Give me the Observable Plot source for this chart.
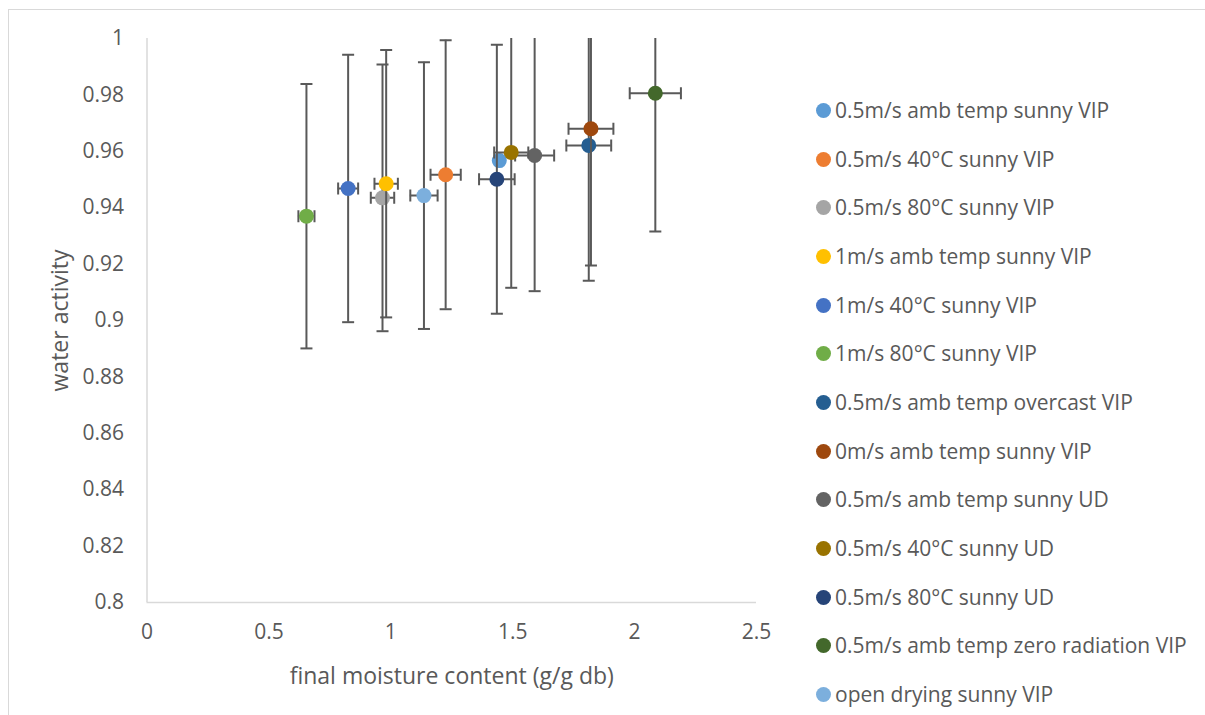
<!DOCTYPE html>
<html>
<head>
<meta charset="utf-8">
<script src="https://cdn.jsdelivr.net/npm/d3@7"></script>
<script src="https://cdn.jsdelivr.net/npm/@observablehq/plot@0.6"></script>
<style>
  html, body { margin: 0; padding: 0; background: #fff; }
  #wrap { position: relative; width: 1205px; height: 715px; overflow: hidden; font-family: "Open Sans", sans-serif; }
  #border { position: absolute; left: 8px; top: 9px; right: -2px; bottom: -2px; border-top: 1.5px solid #d9d9d9; border-left: 1.5px solid #d9d9d9; }
  #chart { position: absolute; left: 0; top: 0; }
  #legend { position: absolute; left: 816px; top: 86px; }
  .row { display: flex; align-items: center; height: 48.7px; }
  .sw { width: 15px; height: 15px; border-radius: 50%; margin-right: 4px; flex: none; }
  .lab { font-size: 21px; color: #595959; white-space: nowrap; line-height: 1; }
</style>
</head>
<body>
<div id="wrap">
  <div id="border"></div>
  <div id="chart"></div>
  <div id="legend"></div>
</div>
<script>
const seriesNames = [
  "0.5m/s amb temp sunny VIP",
  "0.5m/s 40°C sunny VIP",
  "0.5m/s 80°C sunny VIP",
  "1m/s amb temp sunny VIP",
  "1m/s 40°C sunny VIP",
  "1m/s 80°C sunny VIP",
  "0.5m/s amb temp overcast VIP",
  "0m/s amb temp sunny VIP",
  "0.5m/s amb temp sunny UD",
  "0.5m/s 40°C sunny UD",
  "0.5m/s 80°C sunny UD",
  "0.5m/s amb temp zero radiation VIP",
  "open drying sunny VIP"
];
const seriesColors = ["#5B9BD5","#ED7D31","#A5A5A5","#FFC000","#4472C4","#70AD47","#255E91","#9E480E","#636363","#997300","#264478","#43682B","#7CAFDD"];
const moisture = [1.445, 1.225, 0.966, 0.981, 0.825, 0.654, 1.812, 1.821, 1.590, 1.494, 1.435, 2.085, 1.136];
const waterActivity = [0.9567, 0.9517, 0.9435, 0.9485, 0.9468, 0.9370, 0.9621, 0.9680, 0.9585, 0.9596, 0.9501, 0.9806, 0.9443];
const moistureErr = [null, 0.062, 0.048, 0.048, 0.041, 0.033, 0.092, 0.092, 0.080, 0.070, 0.073, 0.105, 0.056];
const activityErr = [null, 0.0477, 0.0473, 0.0474, 0.0474, 0.0469, 0.0480, 0.0485, 0.0481, 0.0480, 0.0477, 0.0490, 0.0473];
const xTicks = [0, 0.5, 1, 1.5, 2, 2.5];
const xTickLabels = ["0", "0.5", "1", "1.5", "2", "2.5"];
const yTicks = [0.8, 0.82, 0.84, 0.86, 0.88, 0.9, 0.92, 0.94, 0.96, 0.98, 1];
const yTickLabels = ["0.8", "0.82", "0.84", "0.86", "0.88", "0.9", "0.92", "0.94", "0.96", "0.98", "1"];
const xTitle = "final moisture content (g/g db)";
const yTitle = "water activity";

const rows = seriesNames.map((name, i) => ({
  name, color: seriesColors[i], x: moisture[i], y: waterActivity[i], xe: moistureErr[i], ye: activityErr[i]
}));

const barColor = "#595959";
const hCap = { draw(ctx, size) { const r = Math.sqrt(size / Math.PI); ctx.moveTo(-r, 0); ctx.lineTo(r, 0); } };
const vCap = { draw(ctx, size) { const r = Math.sqrt(size / Math.PI); ctx.moveTo(0, -r); ctx.lineTo(0, r); } };

const seriesMarks = rows.flatMap(r => {
  const d = [r];
  const m = [];
  if (r.ye != null) {
    m.push(Plot.ruleX(d, { x: "x", y1: v => v.y - v.ye, y2: v => v.y + v.ye, stroke: barColor, strokeWidth: 2, clip: true }));
    m.push(Plot.dot(d, { x: "x", y: v => v.y + v.ye, symbol: hCap, r: 6, stroke: barColor, fill: "none", strokeWidth: 2, clip: true }));
    m.push(Plot.dot(d, { x: "x", y: v => v.y - v.ye, symbol: hCap, r: 6, stroke: barColor, fill: "none", strokeWidth: 2, clip: true }));
  }
  if (r.xe != null) {
    m.push(Plot.ruleY(d, { y: "y", x1: v => v.x - v.xe, x2: v => v.x + v.xe, stroke: barColor, strokeWidth: 2, clip: true }));
    m.push(Plot.dot(d, { y: "y", x: v => v.x - v.xe, symbol: vCap, r: 6, stroke: barColor, fill: "none", strokeWidth: 2, clip: true }));
    m.push(Plot.dot(d, { y: "y", x: v => v.x + v.xe, symbol: vCap, r: 6, stroke: barColor, fill: "none", strokeWidth: 2, clip: true }));
  }
  m.push(Plot.dot(d, { x: "x", y: "y", r: 7.5, fill: r.color, stroke: "none" }));
  return m;
});

const chart = Plot.plot({
  width: 1205,
  height: 715,
  marginLeft: 146.5,
  marginRight: 449,
  marginTop: 38,
  marginBottom: 113,
  style: { fontFamily: "Open Sans, sans-serif", background: "transparent", color: "#595959" },
  x: { domain: [0, 2.5] },
  y: { domain: [0.8, 1] },
  marks: [
    Plot.ruleX([0], { stroke: "#d9d9d9", strokeWidth: 1.5 }),
    Plot.ruleY([0.8], { stroke: "#d9d9d9", strokeWidth: 1.5 }),
    Plot.axisX(xTicks, { tickSize: 0, tickPadding: 22, fontSize: 21, color: "#595959", label: null, tickFormat: d => xTickLabels[xTicks.indexOf(d)] }),
    Plot.axisY(yTicks, { tickSize: 0, tickPadding: 23, fontSize: 21, color: "#595959", label: null, tickFormat: d => yTickLabels[yTicks.indexOf(d)] }),
    Plot.text([xTitle], { frameAnchor: "bottom", dy: 74, lineAnchor: "middle", textAnchor: "middle", fontSize: 23, fill: "#595959" }),
    Plot.text([yTitle], { frameAnchor: "left", dx: -86, rotate: -90, lineAnchor: "middle", textAnchor: "middle", fontSize: 23, fill: "#595959" }),
    ...seriesMarks
  ]
});
document.getElementById("chart").appendChild(chart);

const legend = d3.select("#legend");
rows.forEach(r => {
  const row = legend.append("div").attr("class", "row");
  row.append("div").attr("class", "sw").style("background", r.color);
  row.append("div").attr("class", "lab").text(r.name);
});
</script>
</body>
</html>
